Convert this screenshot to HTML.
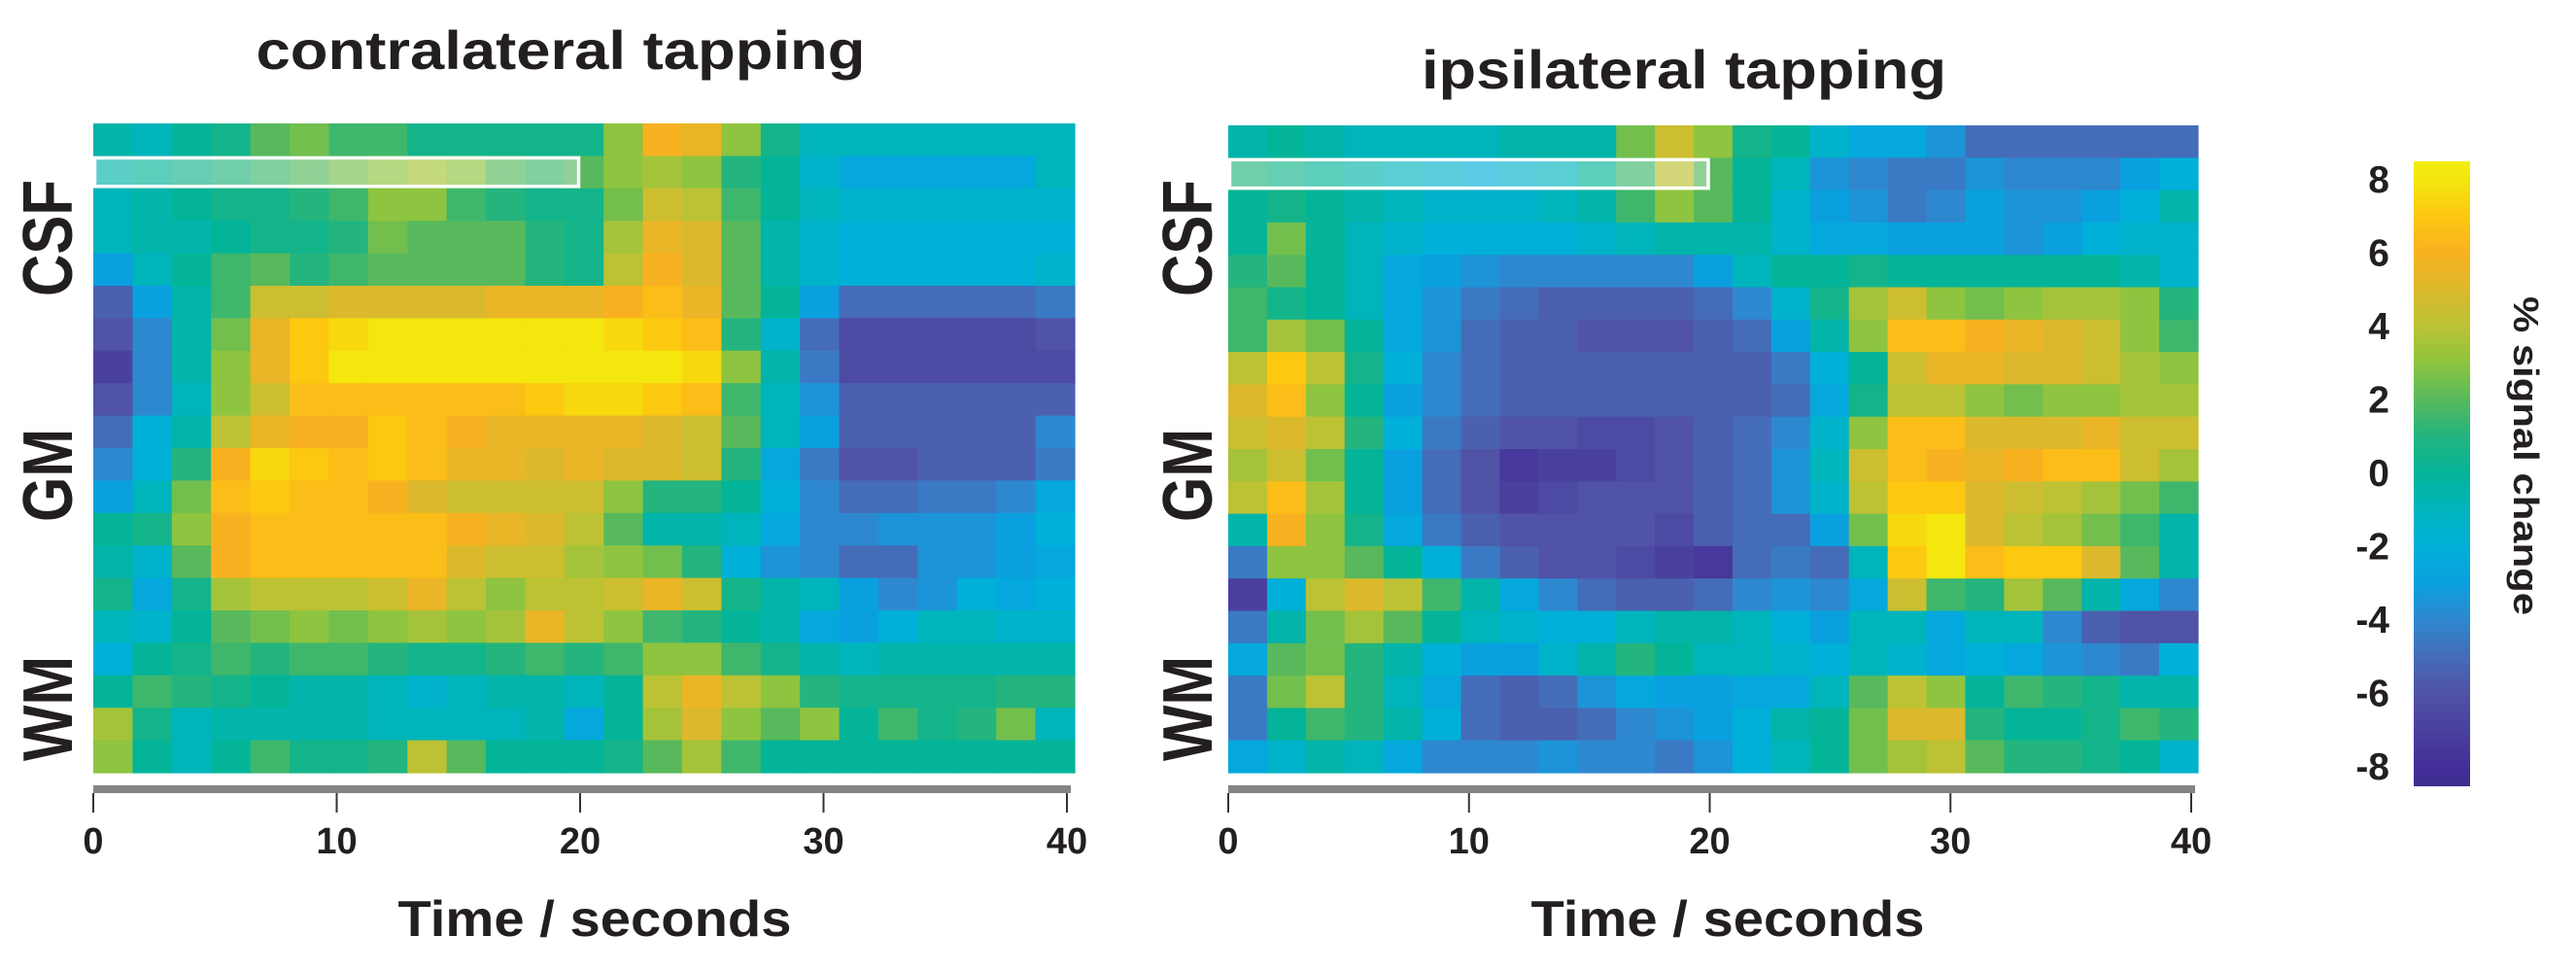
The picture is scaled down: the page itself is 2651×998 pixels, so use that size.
<!DOCTYPE html>
<html><head><meta charset="utf-8"><style>
html,body{margin:0;padding:0;background:#fff;}
svg{display:block;}
text{font-family:"Liberation Sans",Arial,sans-serif;font-weight:bold;fill:#231f20;}
</style></head><body>
<svg id="fig" width="2651" height="998" viewBox="0 0 2651 998" xmlns="http://www.w3.org/2000/svg">
<defs>
<linearGradient id="cbgrad" x1="0" y1="1" x2="0" y2="0"></linearGradient>
</defs>
<text x="577" y="71" font-size="56" text-anchor="middle" textLength="627" lengthAdjust="spacingAndGlyphs">contralateral tapping</text>
<text x="1733" y="91" font-size="56" text-anchor="middle" textLength="540" lengthAdjust="spacingAndGlyphs">ipsilateral tapping</text>
<g id="leftPanel"></g>
<g id="rightPanel"></g>
<g id="colorbar"></g>
<text transform="translate(2587,469) rotate(90)" font-size="36" text-anchor="middle" textLength="328" lengthAdjust="spacingAndGlyphs">% signal change</text>
</svg>
<script>
const xTicks = [0, 10, 20, 30, 40];
const rowLabels = ["CSF", "GM", "WM"];
const cbTicks = [8, 6, 4, 2, 0, -2, -4, -6, -8];
const cbStops = [-8.6, -8, -6, -5, -4, -3, -2, -1, 0, 1, 2, 3, 4, 5, 6, 7, 8, 8.5];
const cbColors = ["#3e2c90","#432f98","#5053a6","#456cb8","#2e88cf","#0aa0df","#00b0d8","#00b4bc","#04b498","#24b47e","#58b95c","#8ec43f","#bcc234","#dcb92c","#f8b120","#fdc810","#f3e70e","#f5ec10"];
const leftData = [
[-0.5,-1,0,0.5,2,2.5,1.5,1.5,0.5,0.5,0.5,0.5,0.5,3,6,5.5,3,0.5,-1,-1,-1,-1,-1,-1,-1],
[-0.5,0,0.5,1,1.5,2,2.5,3,3.5,3,2,1.5,2,3,3.5,3,1,0,-1.5,-2.5,-2.5,-2.5,-2.5,-2.5,-1],
[-1,-0.5,0,0.5,0.5,1,1.5,3,3,1.5,1,0.5,0.5,2.5,4.5,4,1.5,0,-1,-1.5,-1.5,-1.5,-1.5,-1.5,-1.5],
[-1,-0.5,-0.5,0,0.5,0.5,1,2.5,2,2,2,1,0.5,3.5,5.5,5,2,-0.5,-1.5,-2,-2,-2,-2,-2,-2],
[-3,-1,0,1.5,2,1,1.5,2,2,2,2,1,0.5,4,6,5,2,-0.5,-1.5,-2,-2,-2,-2,-2,-1.5],
[-5.5,-3,-0.5,1.5,4.5,4.5,5,5,5,5,5.5,5.5,5.5,6,6.5,5.5,2,0,-3,-5,-5,-5,-5,-5,-4.5],
[-6,-4,-0.5,2.5,5.5,7,7.5,8,8,8,8,8,8,7.5,7,6.5,1,-1.5,-5,-6.5,-6.5,-6.5,-6.5,-6.5,-6],
[-7,-4,-0.5,3,5.5,7,8,8,8,8,8,8,8,8,8,7.5,3,-0.5,-4.5,-6.5,-6.5,-6.5,-6.5,-6.5,-6.5],
[-6,-4,-1,3,4.5,6.5,6.5,6.5,6.5,6.5,6.5,7,7.5,7.5,7,6.5,1.5,-1,-3.5,-5.5,-5.5,-5.5,-5.5,-5.5,-5.5],
[-5,-2,-0.5,4,5.5,6,6,7,6.5,6,5.5,5.5,5.5,5.5,5,4.5,2,-1,-3,-5.5,-5.5,-5.5,-5.5,-5.5,-4],
[-4,-2,1,6,7.5,7,6.5,7,6.5,5.5,5.5,5,5.5,5,5,4.5,1,-2.5,-4.5,-6,-6,-5.5,-5.5,-5.5,-4.5],
[-3,-1,2.5,6.5,7,6.5,6.5,6,5,4.5,4.5,4.5,4.5,3,1,1,0,-2,-4,-5,-5,-4.5,-4.5,-4,-2.5],
[0,0.5,3,6,6.5,6.5,6.5,6.5,6.5,6,5.5,5,4,2,-0.5,-0.5,-1,-2.5,-4,-4,-3.5,-3.5,-3.5,-3,-2],
[-0.5,-1.5,2,6,6.5,6.5,6.5,6.5,6.5,5,4.5,4.5,3.5,3,2.5,1,-2,-3.5,-4,-5,-5,-3.5,-3.5,-3,-2.5],
[0.5,-2.5,0.5,3.5,4,4,4,4.5,5.5,4,3,4,4,4.5,5.5,4.5,0.5,-0.5,-1,-3,-4,-3.5,-2,-2.5,-2],
[-1,-1.5,0,2,2.5,3,2.5,3,3.5,3,3.5,5.5,4,3,1.5,1,0,-0.5,-2.5,-3,-2,-1,-1,-1.5,-1.5],
[-2,0,0.5,1.5,1,1.5,1.5,1,0.5,0.5,1,1.5,1,1.5,3,3,1.5,0.5,-0.5,-1,-0.5,-0.5,-0.5,-0.5,-0.5],
[0,1.5,1,0.5,0,-0.5,-0.5,-1,-1.5,-1,-0.5,-0.5,-1,0,4,5.5,4,3,1,0.5,0.5,0.5,0.5,1,1],
[3.5,0.5,-1,-0.5,-0.5,-0.5,-0.5,-1,-1,-1,-1,-0.5,-2.5,0,3.5,5,3,2,3,0,1.5,0.5,1,2.5,-1],
[3,0,-1,0,1.5,0.5,0.5,1,4,2,0,0,0,0.5,2,3.5,1.5,0,0,0,0,0,0,0,0]
];
const rightData = [
[-0.5,0,-0.5,-1,-1,-1,-1,-0.5,-0.5,-0.5,2.5,4.5,3,0.5,0,-1.5,-2.5,-2.5,-3.5,-5,-5,-5,-5,-5,-5],
[1,0.5,0,-0.5,-1,-1.5,-2,-1.5,-1,0,1.5,4,2,0,-1,-3.5,-4,-4.5,-4.5,-3.5,-4,-4,-4,-3,-2],
[0,0.5,0,-0.5,-1,-1.5,-1.5,-1.5,-1,-0.5,1.5,3,2,0,-1.5,-3,-3.5,-4.5,-4,-3,-3.5,-3.5,-3,-2,-0.5],
[0,2.5,0,-1,-1.5,-2,-2,-2,-2,-1.5,-1,-0.5,-0.5,-0.5,-1.5,-2.5,-2.5,-3,-3,-3,-3.5,-3,-2,-1.5,-1.5],
[1,2,0,-1,-2.5,-3,-3.5,-4,-4,-4,-4,-4,-3,-1,0,0,0.5,0,0,0,0,0,0,-0.5,-1.5],
[1.5,0.5,0,-1,-2.5,-3.5,-4.5,-5,-5.5,-5.5,-5.5,-5.5,-5,-4,-1.5,0.5,3.5,4.5,3,2.5,3,3.5,3.5,3,1],
[1.5,3.5,2.5,0,-2.5,-3.5,-5,-5.5,-5.5,-6,-6,-6,-5.5,-5,-3,-0.5,3,6.5,6.5,6,5.5,5,4.5,3,1.5],
[4,7,4,0.5,-2,-4,-5,-5.5,-5.5,-5.5,-5.5,-5.5,-5.5,-5.5,-4.5,-2,0,4.5,5.5,5.5,5,5,4.5,3.5,3],
[5,6.5,3,0,-3,-4,-5,-5.5,-5.5,-5.5,-5.5,-5.5,-5.5,-5.5,-5,-2.5,0.5,4,4,3,2.5,3,3,3.5,3.5],
[4.5,5,4,1,-2,-4.5,-5.5,-6,-6,-6.5,-6.5,-6,-5.5,-5,-4,-1.5,3,6.5,6.5,5,5,5,5.5,4.5,4.5],
[3.5,4.5,2.5,0,-3,-5,-6,-7.5,-7,-7,-6.5,-6,-5.5,-5,-3.5,-1,4.5,6.5,6,5.5,6,6.5,6.5,4.5,3.5],
[4,6.5,3.5,0,-3,-5,-6,-7,-6.5,-6,-6,-6,-5.5,-5,-3.5,-1.5,4,7,7,5,4.5,4,3.5,2.5,1.5],
[-0.5,6,3,0.5,-2.5,-4.5,-5.5,-6,-6,-6,-6,-6.5,-5.5,-5,-5,-3,2.5,7.5,8,5,4,3.5,2.5,1.5,-0.5],
[-4.5,3,3,2,0,-2,-4.5,-5.5,-6,-6,-6.5,-7,-7.5,-5,-4.5,-5,-1,7,8,6.5,7,7,5,2,-0.5],
[-7,-2,4,5,4,1.5,-0.5,-2.5,-4,-5,-5.5,-5.5,-5,-4,-3.5,-4,-2.5,4.5,1.5,1,3.5,2,-0.5,-2.5,-4],
[-4.5,-0.5,2.5,3.5,2,0,-1,-1.5,-2,-2,-1,-0.5,-0.5,-1,-2,-3,-1,-1,-2.5,-1,-1,-4,-5.5,-6,-6],
[-2.5,2,2.5,1,-0.5,-2,-3,-3,-1.5,-0.5,1,0,-1,-1,-1.5,-2,-1,-1.5,-2.5,-2,-2.5,-3.5,-4,-4.5,-2],
[-4.5,2.5,4,1,-1,-2.5,-5,-5.5,-5,-3.5,-2.5,-3,-3,-2.5,-2.5,-1,2,4,3,0,1.5,1,0.5,-0.5,-0.5],
[-4.5,0,1.5,1,-0.5,-2,-5,-5.5,-5.5,-5,-4,-3.5,-3,-2,-0.5,0,2.5,5,5,1,0,0,0.5,1.5,1],
[-2.5,-1.5,-0.5,-1,-2.5,-4,-4,-4,-3.5,-4,-4,-4.5,-3.5,-2,-1,0,2.5,3.5,4,2,1,1,0.5,0,-1.5]
];
const stimStart = 0;
const stimEnd = 20;

const NS = "http://www.w3.org/2000/svg";
function mk(tag, attrs, parent) {
  const e = document.createElementNS(NS, tag);
  for (const k in attrs) e.setAttribute(k, attrs[k]);
  parent.appendChild(e);
  return e;
}
function hex2rgb(h){return [parseInt(h.slice(1,3),16),parseInt(h.slice(3,5),16),parseInt(h.slice(5,7),16)];}
function colorFor(v){
  if (v <= cbStops[0]) return cbColors[0];
  for (let i=1;i<cbStops.length;i++){
    if (v <= cbStops[i]){
      const t=(v-cbStops[i-1])/(cbStops[i]-cbStops[i-1]);
      const a=hex2rgb(cbColors[i-1]), b=hex2rgb(cbColors[i]);
      return "rgb("+a.map((c,j)=>Math.round(c+(b[j]-c)*t)).join(",")+")";
    }
  }
  return cbColors[cbColors.length-1];
}

function drawPanel(g, data, p){
  const nR = data.length, nC = data[0].length;
  const xs = t => p.x0 + (t/40)*(p.x40 - p.x0);
  const tMax = 40 * (p.hx1 - p.x0) / (p.x40 - p.x0);
  const colT = tMax / nC;
  const rowH = (p.y1 - p.y0) / nR;
  for (let r=0;r<nR;r++){
    for (let c=0;c<nC;c++){
      const xa = xs(c*colT), xb = xs((c+1)*colT);
      const rect = mk("rect",{x:xa.toFixed(2), y:(p.y0+r*rowH).toFixed(2), width:(xb-xa+0.6).toFixed(2), height:(rowH+0.6).toFixed(2), fill:colorFor(data[r][c])}, g);
      
      
    }
  }
  const box = mk("rect",{x:xs(stimStart)+1.5, y:p.y0+rowH+2, width:xs(stimEnd)-xs(stimStart)-3, height:rowH-4, fill:"#ffffff", "fill-opacity":"0.35", stroke:"#ffffff", "stroke-width":"3.5"}, g);
  
  
  const bar = mk("rect",{x:xs(0), y:808, width:xs(40)-xs(0)+4, height:8, fill:"#858585"}, g);
  
  
  xTicks.forEach(t=>{
    const tk = mk("line",{x1:xs(t), x2:xs(t), y1:816, y2:836, stroke:"#333", "stroke-width":"2"}, g);
    
    
    const lb = mk("text",{x:xs(t), y:878, "font-size":"38", "text-anchor":"middle"}, g);
    lb.textContent = t;
    
    
  });
  const xt = mk("text",{x:p.xTitle, y:963, "font-size":"52", "text-anchor":"middle", textLength:"405", lengthAdjust:"spacingAndGlyphs"}, g);
  xt.textContent = "Time / seconds";
  
  
  const centers = [245, 489, 729], lens = [120, 96, 108];
  rowLabels.forEach((s,i)=>{
    const t = mk("text",{transform:"translate("+p.labX+","+centers[i]+") rotate(-90)", "font-size":"72", "text-anchor":"middle", textLength:lens[i], lengthAdjust:"spacingAndGlyphs"}, g);
    t.textContent = s;
    
    
  });
}

drawPanel(document.getElementById("leftPanel"), leftData, {x0:96, x40:1098, hx1:1106, y0:127, y1:795, xTitle:612, labX:74});
drawPanel(document.getElementById("rightPanel"), rightData, {x0:1264, x40:2255, hx1:2262, y0:129, y1:795, xTitle:1778, labX:1247});

const cbTop=166, cbBot=809, vTop=8.48, vBot=-8.55;
const grad=document.getElementById("cbgrad");
cbStops.forEach((s,i)=>{
  const off=(s-vBot)/(vTop-vBot);
  mk("stop",{offset:Math.max(0,Math.min(1,off)), "stop-color":cbColors[i]}, grad);
});
const cb=document.getElementById("colorbar");
const cbr=mk("rect",{x:2484, y:cbTop, width:58, height:cbBot-cbTop, fill:"url(#cbgrad)"}, cb);


const cy = v => cbBot - (v - vBot)/(vTop - vBot)*(cbBot-cbTop);
cbTicks.forEach(v=>{
  const t=mk("text",{x:2459, y:cy(v)+14, "font-size":"39", "text-anchor":"end"}, cb);
  t.textContent = v;
  
  
});
</script>
</body></html>
